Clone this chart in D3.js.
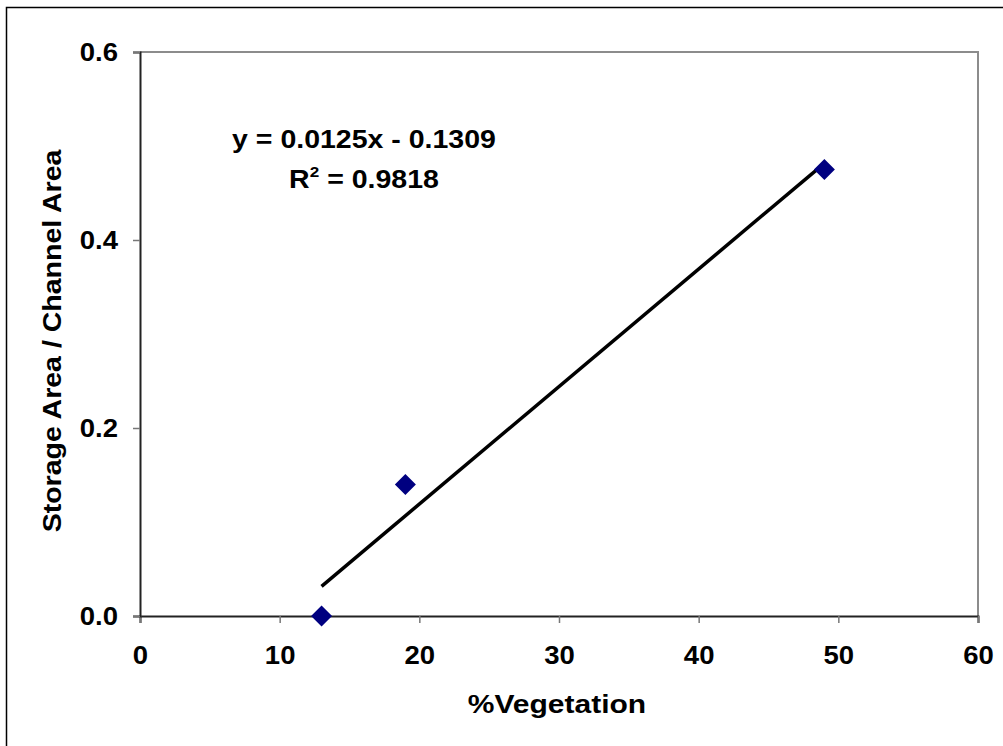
<!DOCTYPE html>
<html>
<head>
<meta charset="utf-8">
<script src="https://cdn.jsdelivr.net/npm/d3@7"></script>
<style>
  body { margin: 0; background: #fff; }
  svg text { font-family: "Liberation Sans", Arial, sans-serif; font-weight: bold; fill: #000; }
</style>
</head>
<body>
<div id="chart"></div>
<script>
// data
const vegetation = [13, 19, 49];
const storageRatio = [0.0, 0.14, 0.475];
const xTicks = [0, 10, 20, 30, 40, 50, 60];
const yTicks = [0.0, 0.2, 0.4, 0.6];
const trendSlope = 0.0125;
const trendIntercept = -0.1309;
const trendRange = [13, 49];
const equationText = "y = 0.0125x - 0.1309";
const r2Value = "0.9818";

const W = 1003, H = 746;
const margin = { top: 52, right: 25, bottom: 130, left: 140 };
const width = W - margin.left - margin.right;
const height = H - margin.top - margin.bottom;
const fontSize = "25px";

const svg = d3.select("#chart").append("svg")
    .attr("width", W)
    .attr("height", H);

// the original text is a bit wider than Liberation Sans, so stretch it
function widen(sel, k) {
    sel.each(function() {
        const len = this.getComputedTextLength();
        d3.select(this)
            .attr("textLength", len * k)
            .attr("lengthAdjust", "spacingAndGlyphs");
    });
}

// outer chart border
svg.append("rect")
    .attr("x", 6.5).attr("y", 7.5)
    .attr("width", W + 20).attr("height", H + 20)
    .attr("fill", "none")
    .attr("stroke", "#000")
    .attr("stroke-width", 1.5);

const g = svg.append("g")
    .attr("transform", `translate(${margin.left},${margin.top})`);

const x = d3.scaleLinear().domain([0, 60]).range([0, width]);
const y = d3.scaleLinear().domain([0, 0.6]).range([height, 0]);

// plot area frame (top / right in grey)
g.append("path")
    .attr("d", `M0,0H${width}V${height}`)
    .attr("fill", "none")
    .attr("stroke", "#8c8c8c")
    .attr("stroke-width", 2);

// X axis
const xAxis = g.append("g")
    .attr("transform", `translate(0,${height})`)
    .call(d3.axisBottom(x).tickValues(xTicks).tickSize(7).tickPadding(23).tickFormat(d3.format("d")));
xAxis.select(".domain").attr("stroke", "#222").attr("stroke-width", 2);
xAxis.selectAll(".tick line").attr("stroke", "#777").attr("stroke-width", 1.5);
xAxis.selectAll(".tick text").style("font-size", fontSize).call(widen, 1.1);

// Y axis
const yAxis = g.append("g")
    .call(d3.axisLeft(y).tickValues(yTicks).tickSize(7).tickPadding(15).tickFormat(d3.format(".1f")));
yAxis.select(".domain").attr("stroke", "#222").attr("stroke-width", 2);
yAxis.selectAll(".tick line").attr("stroke", "#777").attr("stroke-width", 1.5);
yAxis.selectAll(".tick text").style("font-size", fontSize).call(widen, 1.1);

// trend line
g.append("line")
    .attr("x1", x(trendRange[0]))
    .attr("y1", y(trendSlope * trendRange[0] + trendIntercept))
    .attr("x2", x(trendRange[1]))
    .attr("y2", y(trendSlope * trendRange[1] + trendIntercept))
    .attr("stroke", "#000")
    .attr("stroke-width", 3.5);

// markers
const points = vegetation.map((v, i) => ({ x: v, y: storageRatio[i] }));
g.selectAll(".pt")
    .data(points)
    .enter()
    .append("path")
    .attr("class", "pt")
    .attr("transform", d => `translate(${x(d.x)},${y(d.y)})`)
    .attr("d", "M0,-10.5L10.5,0L0,10.5L-10.5,0Z")
    .attr("fill", "#000080");

// equation labels
svg.append("text")
    .attr("x", 364).attr("y", 148)
    .attr("text-anchor", "middle")
    .style("font-size", fontSize)
    .text(equationText)
    .call(widen, 1.14);

const r2 = svg.append("text")
    .attr("x", 364).attr("y", 188)
    .attr("text-anchor", "middle")
    .style("font-size", fontSize);
r2.append("tspan").text("R");
r2.append("tspan").attr("dy", -11).style("font-size", "15px").text("2");
r2.append("tspan").attr("dy", 11).text(" = " + r2Value);
r2.call(widen, 1.14);

// axis titles
svg.append("text")
    .attr("x", 557).attr("y", 713)
    .attr("text-anchor", "middle")
    .style("font-size", fontSize)
    .text("%Vegetation")
    .call(widen, 1.2);

svg.append("text")
    .attr("transform", "translate(61,341) rotate(-90)")
    .attr("text-anchor", "middle")
    .style("font-size", fontSize)
    .text("Storage Area / Channel Area")
    .call(widen, 1.14);
</script>
</body>
</html>
